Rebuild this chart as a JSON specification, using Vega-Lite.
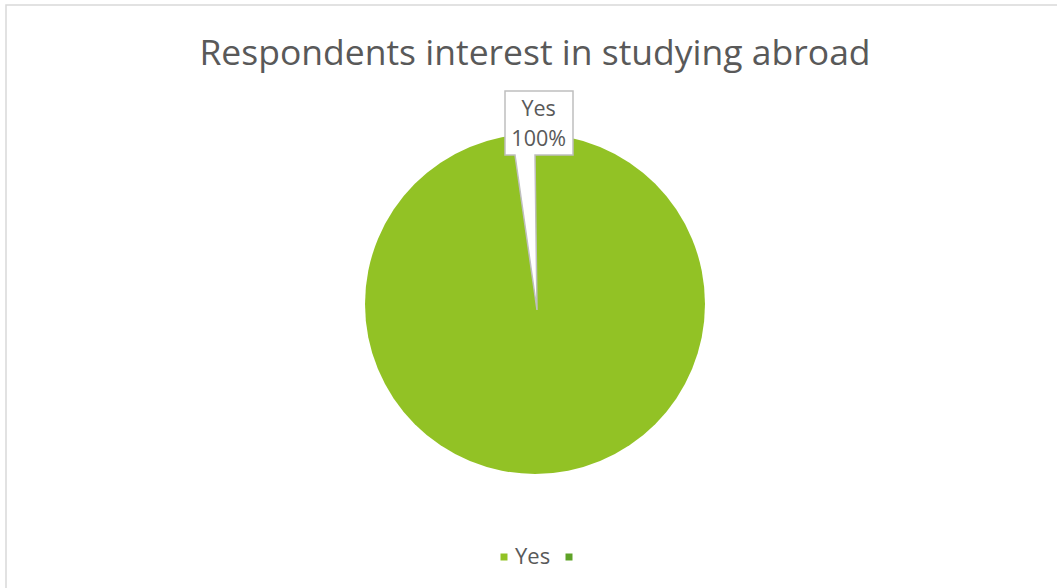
{
  "$schema": "https://vega.github.io/schema/vega-lite/v6.json",
  "width": 1058,
  "height": 598,
  "autosize": {"type": "none"},
  "padding": {"left": 6, "top": 5, "right": 0, "bottom": 0},
  "background": "white",
  "view": {"stroke": "#D9D9D9", "strokeWidth": 1.5},
  "title": {
    "text": "Respondents interest in studying abroad",
    "font": "Open Sans",
    "fontSize": 35.5,
    "fontWeight": "normal",
    "color": "#595959",
    "anchor": "middle",
    "offset": -36,
    "baseline": "alphabetic",
    "dy": 59
  },
  "data": {"values": [{"answer": "Yes", "value": 100}, {"answer": "", "value": 0}]},
  "layer": [
    {
      "mark": {"type": "arc", "outerRadius": 170},
      "encoding": {
        "theta": {"field": "value", "type": "quantitative", "stack": true},
        "color": {
          "field": "answer",
          "type": "nominal",
          "sort": ["Yes", ""],
          "scale": {"domain": ["Yes", ""], "range": ["#92C225", "#5EA227"]},
          "legend": {
            "orient": "none",
            "legendX": 487,
            "legendY": 541,
            "direction": "horizontal",
            "title": null,
            "symbolType": "square",
            "symbolSize": 49,
            "symbolStrokeWidth": 0,
            "labelFont": "Open Sans",
            "labelFontSize": 22,
            "labelColor": "#595959",
            "labelOffset": 0,
            "columnPadding": 7
          }
        }
      }
    },
    {
      "transform": [{"filter": "datum.value > 0"}],
      "mark": {
        "type": "point",
        "shape": "M-0.12,-0.852L0.152,-0.852L0.152,-0.596L0,-0.596L0.008,0.024L-0.08,-0.596L-0.12,-0.596Z",
        "size": 250000,
        "filled": true,
        "fill": "white",
        "stroke": "#BFBFBF",
        "strokeWidth": 1.5,
        "opacity": 1
      },
      "encoding": {}
    },
    {
      "transform": [
        {"filter": "datum.value > 0"},
        {"joinaggregate": [{"op": "sum", "field": "value", "as": "total"}]},
        {"calculate": "datum.answer + '\\n' + format(datum.value / datum.total, '.0%')", "as": "label"}
      ],
      "mark": {
        "type": "text",
        "theta": 0.019,
        "radius": 194.5,
        "lineBreak": "\n",
        "lineHeight": 30,
        "font": "Open Sans",
        "fontSize": 21.5,
        "color": "#595959",
        "align": "center",
        "baseline": "middle"
      },
      "encoding": {"text": {"field": "label", "type": "nominal"}}
    }
  ]
}
